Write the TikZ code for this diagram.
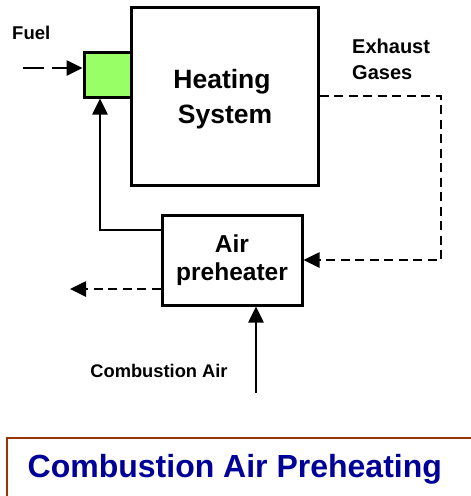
\documentclass[tikz,border=0pt]{standalone}
\usepackage{fontspec}
\setmainfont{Liberation Sans}
\usetikzlibrary{arrows.meta}
\definecolor{fuelgreen}{RGB}{153,255,102}
\definecolor{titleblue}{RGB}{0,0,153}
\definecolor{framebrown}{RGB}{153,51,0}
\tikzset{
  box/.style={draw=black, line width=3pt, inner sep=0pt, align=center, font=\bfseries},
  flow/.style={line width=2.6pt, -{Triangle[length=16pt,width=15pt]}},
  gasflow/.style={flow, dash pattern=on 9pt off 5.5pt},
  lbl/.style={font=\bfseries, inner sep=0pt, align=left}
}
\begin{document}
\begin{tikzpicture}[x=1pt,y=-1pt]
\useasboundingbox (0,0) rectangle (471,496);
\node[box, minimum width=187pt, minimum height=178pt] (heat) at (224.5,96) {};
\node[font=\bfseries\fontsize{26.5}{35}\selectfont, align=center, inner sep=0pt] (heattxt) at (222,99) {Heating\\\hspace*{6pt}System};
\node[box, fill=fuelgreen, minimum width=47pt, minimum height=45pt] (green) at (107.5,74.5) {};
\node[box, minimum width=140pt, minimum height=90pt, font=\bfseries\fontsize{24.5}{28}\selectfont] (pre) at (232,260) {Air\\preheater};
\node[lbl, font=\bfseries\fontsize{18.5}{20}\selectfont, anchor=west] (fuel) at (12,33) {Fuel};
\node[lbl, font=\bfseries\fontsize{20}{26}\selectfont, anchor=west] (exh) at (352,59) {Exhaust\\Gases};
\node[lbl, font=\bfseries\fontsize{18.3}{20}\selectfont] (cair) at (159,371) {Combustion Air};
\coordinate (fuelin) at (23,68);
\coordinate (exhc1) at (441,96);
\coordinate (exhc2) at (441,260);
\coordinate (outend) at (70,289);
\coordinate (airin) at (256,393);
\coordinate (loopc) at (100,230);
% fuel
\draw[flow, dash pattern=on 21pt off 8pt] (fuelin) -- (fuelin -| green.west);
% exhaust gases
\draw[gasflow] (heat.east) -- (exhc1) -- (exhc2) -- (pre.east);
% cooled gases out
\draw[gasflow] (pre.west |- outend) -- (outend);
% combustion air in
\draw[flow] (airin) -- (airin |- pre.south);
% preheated air to burner
\draw[flow] (pre.west |- loopc) -- (loopc) -- (loopc |- green.south);
% title frame
\draw[framebrown, line width=2.6pt] (480,438) -- (7,438) -- (7,510);
\node[font=\bfseries\fontsize{32}{38}\selectfont, text=titleblue, anchor=west, inner sep=0pt] (title) at (27.5,469) {Combustion Air Preheating};
\end{tikzpicture}
\end{document}
